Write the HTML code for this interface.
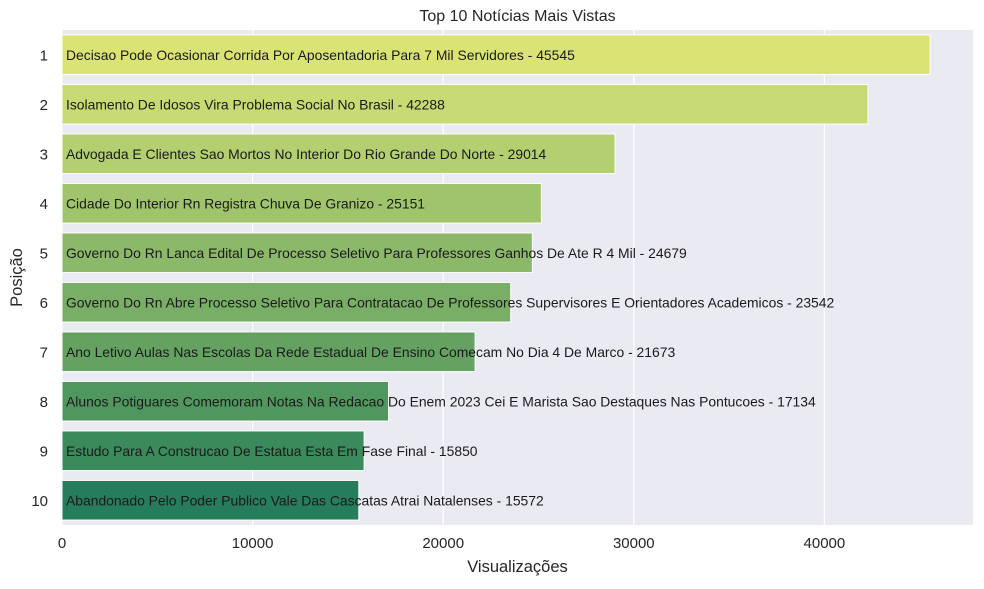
<!DOCTYPE html>
<html><head><meta charset="utf-8"><style>
body{margin:0;background:#fff;font-family:"Liberation Sans","DejaVu Sans",sans-serif}
svg text{font-family:"Liberation Sans","DejaVu Sans",sans-serif}
</style></head><body>
<svg id="chart" width="984" height="584"></svg>
<script>
const titles=["Decisao Pode Ocasionar Corrida Por Aposentadoria Para 7 Mil Servidores","Isolamento De Idosos Vira Problema Social No Brasil","Advogada E Clientes Sao Mortos No Interior Do Rio Grande Do Norte","Cidade Do Interior Rn Registra Chuva De Granizo","Governo Do Rn Lanca Edital De Processo Seletivo Para Professores Ganhos De Ate R 4 Mil","Governo Do Rn Abre Processo Seletivo Para Contratacao De Professores Supervisores E Orientadores Academicos","Ano Letivo Aulas Nas Escolas Da Rede Estadual De Ensino Comecam No Dia 4 De Marco","Alunos Potiguares Comemoram Notas Na Redacao Do Enem 2023 Cei E Marista Sao Destaques Nas Pontucoes","Estudo Para A Construcao De Estatua Esta Em Fase Final","Abandonado Pelo Poder Publico Vale Das Cascatas Atrai Natalenses"];
const positions=["1","2","3","4","5","6","7","8","9","10"];
const views=[45545,42288,29014,25151,24679,23542,21673,17134,15850,15572];
const xTicks=[0,10000,20000,30000,40000];
const colors=["#d9e475","#c7da73","#b3cf6f","#a0c46c","#8cb969","#79ae66","#65a262","#50965f","#3b8a5c","#267d5b"];
const NS="http://www.w3.org/2000/svg";
const svg=document.getElementById('chart');
const L=62,R=973,T=30,B=525;
const x=v=>L+v*(190.6/10000);
const step=(B-T)/views.length;
const y=i=>T+step*(i+0.5);
function mk(t,a,txt){const e=document.createElementNS(NS,t);for(const k in a)e.setAttribute(k,a[k]);if(txt!==undefined)e.textContent=txt;svg.appendChild(e);return e;}
const bg=mk('rect',{x:L,y:T,width:R-L,height:B-T,fill:'#eaeaf2'});


xTicks.forEach(v=>{
 const g=mk('line',{x1:x(v),x2:x(v),y1:T,y2:B,stroke:'#fff','stroke-width':1.2});
 
 
 const t=mk('text',{x:x(v),y:B+23,'text-anchor':'middle','font-size':15,fill:'#262626'},String(v));
 
 
});
views.forEach((v,i)=>{
 const h=step*0.8;
 const b=mk('rect',{x:x(0),y:y(i)-h/2,width:x(v)-x(0),height:h,fill:colors[i],stroke:'#fff','stroke-width':1});
 
 
 const yl=mk('text',{x:L-14,y:y(i)+5.5,'text-anchor':'end','font-size':15,fill:'#262626'},positions[i]);
 
 
 const bl=mk('text',{x:x(0)+4,y:y(i)+5,'font-size':13.9,fill:'#1a1a1a'},titles[i]+' - '+v);
 
 
});
const ti=mk('text',{x:(L+R)/2,y:21,'text-anchor':'middle','font-size':16,fill:'#262626'},'Top 10 Notícias Mais Vistas');


const xl=mk('text',{x:(L+R)/2,y:572,'text-anchor':'middle','font-size':16.5,fill:'#262626'},'Visualizações');


const yt=mk('text',{x:0,y:0,'text-anchor':'middle','font-size':16.5,fill:'#262626',transform:'translate(22,'+((T+B)/2)+') rotate(-90)'},'Posição');


</script>
</body></html>
